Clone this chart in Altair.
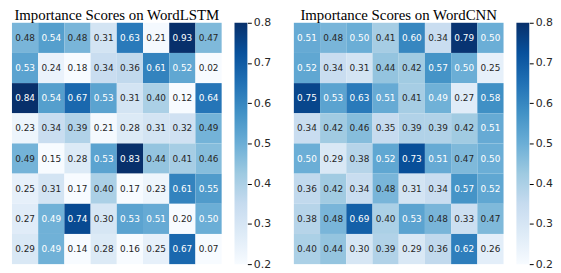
import altair as alt
import pandas as pd

# Importance scores (rows x columns)
lstm_scores = [
    [0.48, 0.54, 0.48, 0.31, 0.63, 0.21, 0.93, 0.47],
    [0.53, 0.24, 0.18, 0.34, 0.36, 0.61, 0.52, 0.02],
    [0.84, 0.54, 0.67, 0.53, 0.31, 0.40, 0.12, 0.64],
    [0.23, 0.34, 0.39, 0.21, 0.28, 0.31, 0.32, 0.487],
    [0.487, 0.15, 0.28, 0.53, 0.83, 0.44, 0.41, 0.46],
    [0.25, 0.31, 0.17, 0.40, 0.17, 0.23, 0.61, 0.55],
    [0.27, 0.493, 0.74, 0.30, 0.53, 0.51, 0.20, 0.50],
    [0.29, 0.493, 0.14, 0.28, 0.16, 0.25, 0.67, 0.07],
]
cnn_scores = [
    [0.51, 0.48, 0.50, 0.41, 0.60, 0.34, 0.79, 0.50],
    [0.52, 0.34, 0.31, 0.44, 0.42, 0.57, 0.50, 0.25],
    [0.75, 0.53, 0.63, 0.51, 0.41, 0.493, 0.27, 0.58],
    [0.34, 0.42, 0.46, 0.35, 0.39, 0.39, 0.42, 0.51],
    [0.50, 0.29, 0.38, 0.52, 0.73, 0.51, 0.47, 0.50],
    [0.36, 0.42, 0.34, 0.48, 0.31, 0.34, 0.57, 0.52],
    [0.38, 0.48, 0.69, 0.40, 0.53, 0.48, 0.33, 0.47],
    [0.40, 0.44, 0.30, 0.39, 0.29, 0.36, 0.62, 0.26],
]
titles = ["Importance Scores on WordLSTM", "Importance Scores on WordCNN"]
cbar_ticks = [0.2, 0.3, 0.4, 0.5, 0.6, 0.7, 0.8]
vmin, vmax = 0.2, 0.8

# matplotlib "Blues" colormap anchor colours
blues = ["#f7fbff", "#deebf7", "#c6dbef", "#9ecae1", "#6baed6",
         "#4292c6", "#2171b5", "#08519c", "#08306b"]
n = len(blues) - 1
stops = [vmin + i * (vmax - vmin) / n for i in range(len(blues))]

W, H = 212, 244


def panel(scores, title):
    records = []
    for r, row in enumerate(scores):
        for c, v in enumerate(row):
            records.append({"row": r, "col": c, "v": v})
    df = pd.DataFrame(records)

    x = alt.X("col:O", axis=None, scale=alt.Scale(paddingInner=0, paddingOuter=0))
    y = alt.Y("row:O", axis=None, scale=alt.Scale(paddingInner=0, paddingOuter=0))

    heat = alt.Chart(df).mark_rect().encode(
        x=x, y=y,
        color=alt.Color("v:Q", legend=None,
                        scale=alt.Scale(domain=stops, range=blues,
                                        interpolate="rgb", clamp=True)),
    )
    text = alt.Chart(df).mark_text(font="DejaVu Sans", fontSize=9).encode(
        x=x, y=y,
        text=alt.Text("v:Q", format=".2f"),
        color=alt.condition("datum.v >= 0.49", alt.value("white"), alt.value("#262626")),
    )

    grad = alt.Gradient(
        gradient="linear",
        stops=[alt.GradientStop(color=c, offset=i / n) for i, c in enumerate(blues)],
        x1=0, y1=1, x2=0, y2=0,
    )
    cb_df = pd.DataFrame({"lo": [vmin], "hi": [vmax]})
    cbar = alt.Chart(cb_df).mark_rect(color=grad).encode(
        x=alt.value(225), x2=alt.value(238),
        y=alt.Y("hi:Q",
                scale=alt.Scale(domain=[vmin, vmax], nice=False, zero=False),
                axis=alt.Axis(orient="right", offset=26, values=cbar_ticks,
                              format=".1f", domain=False, grid=False,
                              tickSize=4, tickColor="black", labelPadding=2,
                              labelFont="DejaVu Sans", labelFontSize=11,
                              labelColor="#262626", title=None)),
        y2="lo:Q",
    )

    ttl = alt.Chart(pd.DataFrame({"t": [title]})).mark_text(
        font="Liberation Serif", fontSize=15, baseline="alphabetic",
        align="center", color="black",
    ).encode(x=alt.value(W / 2), y=alt.value(-2.5), text="t:N")

    return alt.layer(heat, text, cbar, ttl).resolve_scale(y="independent").properties(
        width=W, height=H)


chart = alt.hconcat(
    panel(lstm_scores, titles[0]),
    panel(cnn_scores, titles[1]),
    spacing=73, bounds="flush",
).properties(
    padding={"left": 4, "top": -1.5, "right": 0, "bottom": 0},
    background="white",
).configure_view(stroke=None)

chart.save("out.html", embed_options={"renderer": "svg", "actions": False})
